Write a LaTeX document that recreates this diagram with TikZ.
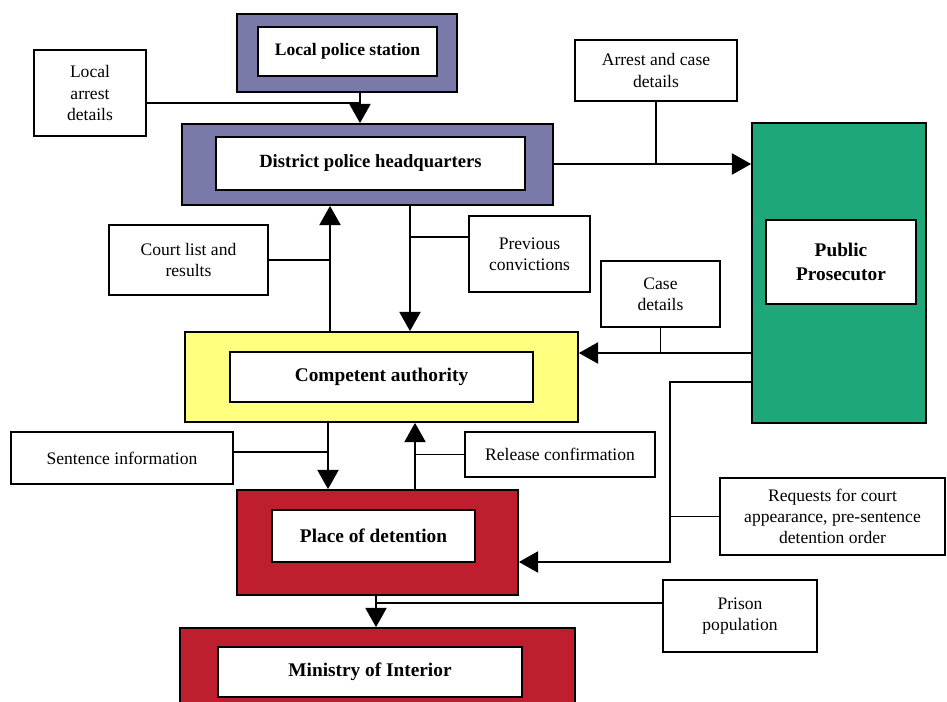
\documentclass[tikz,border=0pt]{standalone}
\usepackage{fontspec}
\setmainfont{Liberation Serif}
\usepackage{xcolor}
\usetikzlibrary{arrows.meta}

\definecolor{policeblue}{RGB}{122,122,170}
\definecolor{prosgreen}{RGB}{30,168,122}
\definecolor{authyellow}{RGB}{255,255,128}
\definecolor{detred}{RGB}{190,30,45}

\tikzset{
  outer/.style={draw, line width=1pt, inner sep=0pt},
  inner/.style={draw, fill=white, line width=1pt, inner sep=0pt, align=center,
    font=\bfseries\fontsize{11}{13.5}\selectfont},
  infobox/.style={draw, fill=white, line width=0.8pt, inner sep=0pt, align=center,
    font=\fontsize{10}{12}\selectfont},
  flow/.style={line width=1.3pt, -{Triangle[length=11pt,width=12pt]}},
  link/.style={line width=0.8pt}
}

\begin{document}
\begin{tikzpicture}[x=0.02cm, y=-0.02cm]
    \useasboundingbox (0,0) rectangle (947,702);
    \clip (0,0) rectangle (947,702);

    \coordinate (xLocal) at (360, 103);
    \coordinate (yPros) at (0, 164);
    \coordinate (xUp) at (330, 0);
    \coordinate (xDown) at (410, 237);
    \coordinate (yCase) at (0, 353);
    \coordinate (Req) at (670, 382);
    \coordinate (Reqb) at (670, 562);
    \coordinate (xSent) at (328, 452);
    \coordinate (xRel) at (415, 0);
    \coordinate (xMin) at (376, 603);

    % main boxes
    \node[outer, fill=policeblue, minimum width=4.4cm, minimum height=1.56cm] (Lps) at (347, 53) {};
    \node[inner, font=\bfseries\fontsize{10}{12}\selectfont, minimum width=3.58cm, minimum height=0.98cm] (Lpsin) at (347.5, 51.5) {Local police station};

    \node[outer, fill=policeblue, minimum width=7.42cm, minimum height=1.62cm] (Dph) at (367.5, 164.5) {};
    \node[inner, font=\bfseries\fontsize{10.6}{13}\selectfont, minimum width=6.18cm, minimum height=1.06cm] (Dphin) at (370.5, 163.5) {District police headquarters};

    \node[outer, fill=prosgreen, minimum width=3.48cm, minimum height=6cm] (Pp) at (839, 273) {};
    \node[inner, minimum width=3cm, minimum height=1.68cm] (Ppin) at (841, 262) {Public\\Prosecutor};

    \node[outer, fill=authyellow, minimum width=7.86cm, minimum height=1.8cm] (Ca) at (381.5, 377) {};
    \node[inner, minimum width=6.06cm, minimum height=1cm] (Cain) at (381.5, 377) {Competent authority};

    \node[outer, fill=detred, minimum width=5.62cm, minimum height=2.1cm] (Pod) at (377.5, 542.5) {};
    \node[inner, minimum width=4.06cm, minimum height=1.04cm] (Podin) at (373.5, 536) {Place of detention};

    \node[outer, fill=detred, minimum width=7.9cm, minimum height=2.04cm] (Moi) at (377.5, 679) {};
    \node[inner, minimum width=6.08cm, minimum height=1cm] (Moiin) at (370, 672) {Ministry of Interior};

    % information boxes
    \node[infobox, minimum width=2.24cm, minimum height=1.72cm] (Local) at (90, 93) {Local\\arrest\\details};
    \node[infobox, minimum width=3.24cm, minimum height=1.22cm] (Acd) at (656, 70.5) {Arrest and case\\details};
    \node[infobox, minimum width=3.18cm, minimum height=1.4cm] (Court) at (188.5, 260) {Court list and\\results};
    \node[infobox, minimum width=2.42cm, minimum height=1.52cm] (Prev) at (529.5, 254) {Previous\\convictions};
    \node[infobox, minimum width=2.38cm, minimum height=1.32cm] (Case) at (660.5, 294) {Case\\details};
    \node[infobox, minimum width=4.44cm, minimum height=1.04cm] (Sent) at (122, 458) {Sentence information};
    \node[infobox, minimum width=3.8cm, minimum height=0.9cm] (Rel) at (560, 454.5) {Release confirmation};
    \node[infobox, minimum width=4.5cm, minimum height=1.54cm] (Reqs) at (832.5, 516.5) {Requests for court\\appearance, pre-sentence\\detention order};
    \node[infobox, minimum width=3.08cm, minimum height=1.44cm] (Prison) at (740, 616) {Prison\\population};

    % flows
    \draw[flow] (Lps.south -| xLocal) -- (Dph.north -| xLocal);
    \draw[link] (xLocal -| Local.east) -- (xLocal);

    \draw[flow] (Dph.east |- yPros) -- (Pp.west |- yPros);
    \draw[link] (Acd.south) -- (Acd.south |- yPros);

    \draw[flow] (Ca.north -| xUp) -- (Dph.south -| xUp);
    \draw[link] (Court.east) -- (Court.east -| xUp);

    \draw[flow] (Dph.south -| xDown) -- (Ca.north -| xDown);
    \draw[link] (xDown) -- (xDown -| Prev.west);

    \draw[flow] (Pp.west |- yCase) -- (Ca.east |- yCase);
    \draw[link] (Case.south) -- (Case.south |- yCase);

    \draw[flow] (Pp.west |- Req) -- (Req) -- (Reqb) -- (Pod.east |- Reqb);
    \draw[link] (Reqs.west) -- (Reqs.west -| Req);

    \draw[flow] (Ca.south -| xSent) -- (Pod.north -| xSent);
    \draw[link] (xSent -| Sent.east) -- (xSent);

    \draw[flow] (Pod.north -| xRel) -- (Ca.south -| xRel);
    \draw[link] (Rel.west) -- (Rel.west -| xRel);

    \draw[flow] (Pod.south -| xMin) -- (Moi.north -| xMin);
    \draw[link] (xMin -| Prison.west) -- (xMin);
\end{tikzpicture}
\end{document}
